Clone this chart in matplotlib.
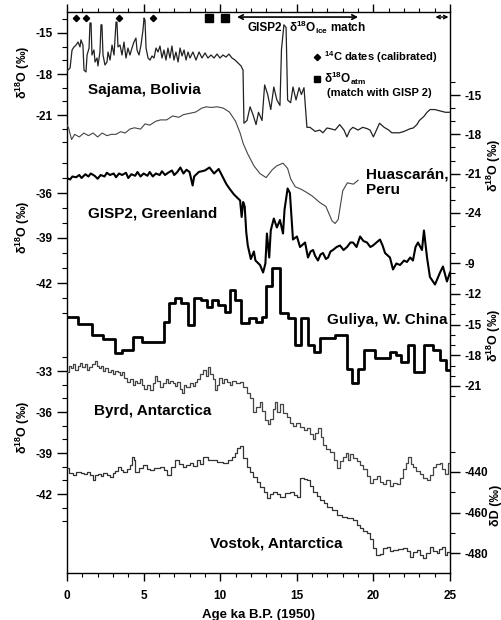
import matplotlib
matplotlib.use("Agg")
import matplotlib.pyplot as plt
from matplotlib.ticker import MultipleLocator

plt.rcParams['font.family'] = ['Liberation Sans', 'DejaVu Sans']
plt.rcParams['font.weight'] = 'bold'
plt.rcParams['axes.unicode_minus'] = False
plt.rcParams['mathtext.default'] = 'regular'

# ---- data ----
sajama_age = [0.0, 0.2, 0.33, 0.46, 0.59, 0.72, 0.85, 0.91, 1.04, 1.11, 1.24, 1.31, 1.44, 1.5,
              1.57, 1.63, 1.76, 1.83, 1.96, 2.02, 2.15, 2.22, 2.28, 2.35, 2.48, 2.61, 2.68, 2.81,
              2.94, 3.07, 3.2, 3.26, 3.33, 3.46, 3.59, 3.72, 3.85, 3.98, 4.11, 4.24, 4.37, 4.5,
              4.57, 4.7, 4.83, 4.96, 5.03, 5.09, 5.16, 5.29, 5.42, 5.55, 5.68, 5.81, 5.94, 6.07,
              6.2, 6.33, 6.46, 6.59, 6.72, 6.85, 6.98, 7.11, 7.25, 7.38, 7.51, 7.64, 7.77, 7.9,
              8.03, 8.22, 8.42, 8.62, 8.81, 9.01, 9.2, 9.4, 9.6, 9.79, 9.99, 10.18, 10.38, 10.57,
              10.77, 10.97, 11.16, 11.36, 11.49,
              11.55, 11.75, 11.95, 12.15, 12.34, 12.5, 12.73, 12.9, 13.1, 13.3, 13.5, 13.7, 13.9,
              14.0, 14.16, 14.3, 14.4, 14.6, 14.75, 14.95, 15.15, 15.3, 15.47, 15.66, 15.86, 16.2,
              16.5, 16.7, 16.97, 17.2, 17.5, 17.8, 18.08, 18.27, 18.47, 18.66, 19.0, 19.3, 19.6,
              19.78, 20.0, 20.2, 20.4, 20.7, 21.0, 21.2, 21.7, 22.0, 22.4, 22.6, 22.84, 23.0,
              23.3, 23.5, 23.7, 24.0, 24.35, 24.7, 25.0]
sajama_d18o = [-17.78, -17.56, -16.24, -16.02, -15.88, -15.66, -16.02, -15.5, -15.88, -17.71,
               -17.85, -16.61, -16.1, -14.27, -14.27, -16.61, -16.24, -17.12, -16.83, -17.41,
               -16.39, -14.4, -14.4, -16.61, -17.34, -17.12, -16.39, -16.98, -15.88, -16.61,
               -14.2, -14.2, -16.02, -15.88, -16.61, -15.66, -16.83, -16.1, -16.61, -16.1,
               -15.66, -15.37, -16.24, -16.61, -15.88, -14.78, -13.9, -14.05, -16.1, -16.83,
               -16.98, -16.68, -16.83, -16.1, -16.39, -15.95, -16.83, -16.24, -16.98, -16.1,
               -16.83, -15.95, -16.98, -16.39, -17.12, -16.1, -16.68, -16.24, -16.98, -16.39,
               -16.83, -16.39, -16.98, -16.39, -16.83, -16.46, -16.83, -16.61, -16.83, -16.54,
               -16.83, -16.61, -16.76, -16.54, -16.83, -16.98, -17.19, -17.41, -17.71,
               -21.6, -21.4, -20.4, -21.0, -21.7, -20.8, -21.4, -18.8, -19.5, -20.6, -18.95,
               -19.9, -20.3, -16.2, -14.4, -14.6, -19.9, -20.1, -18.95, -19.9, -19.0, -19.5,
               -19.0, -21.9, -21.9, -22.2, -22.1, -22.3, -21.95, -22.0, -22.1, -21.7, -22.1,
               -22.6, -22.1, -21.9, -22.1, -21.9, -22.0, -22.1, -22.6, -22.1, -21.6, -21.9,
               -22.1, -22.3, -22.3, -22.2, -22.0, -21.95, -21.7, -21.4, -21.1, -20.8, -20.6,
               -20.6, -20.7, -20.8, -20.8]

huascaran_age = [0.0, 0.1, 0.3, 0.5, 0.8, 1.1, 1.4, 1.7, 2.0, 2.3, 2.6, 2.9, 3.2, 3.5, 3.8, 4.1,
                 4.4, 4.8, 5.1, 5.4, 5.8, 6.1, 6.5, 6.9, 7.3, 7.6, 8.0, 8.4, 8.8, 9.1, 9.4, 9.8,
                 10.2, 10.6, 11.0, 11.3, 11.5, 11.8, 12.2, 12.6, 13.0, 13.4, 13.7, 14.1, 14.4,
                 14.6, 14.9, 15.3, 15.6, 16.0, 16.5, 16.9, 17.3, 17.5, 17.7, 18.0, 18.3, 18.7, 19.0]
huascaran_d18o = [-17.3, -17.5, -18.4, -18.0, -18.2, -17.9, -18.1, -17.9, -18.2, -17.9, -18.1,
                  -18.0, -18.0, -17.8, -17.9, -17.6, -17.5, -17.6, -17.2, -17.3, -17.0, -16.9,
                  -16.9, -16.6, -16.7, -16.5, -16.4, -16.3, -16.0, -15.9, -15.95, -15.9, -16.0,
                  -16.3, -17.0, -17.9, -18.7, -19.5, -20.4, -21.0, -21.3, -20.7, -20.4, -20.2,
                  -20.6, -21.4, -22.0, -22.2, -22.4, -22.7, -23.2, -23.5, -24.6, -24.8, -24.5,
                  -22.3, -21.7, -21.8, -21.5]

gisp2_age = [0.0, 0.2, 0.35, 0.6, 0.8, 0.95, 1.2, 1.4, 1.55, 1.8, 2.0, 2.2, 2.45, 2.6, 2.8, 3.05,
             3.2, 3.4, 3.6, 3.85, 4.0, 4.2, 4.45, 4.6, 4.8, 5.0, 5.25, 5.4, 5.6, 5.8, 6.05, 6.2,
             6.4, 6.6, 6.85, 7.0, 7.2, 7.4, 7.6, 7.8, 8.0, 8.2, 8.3, 8.6, 9.0, 9.3, 9.6, 9.9,
             10.1, 10.4, 10.6, 10.9, 11.1, 11.3, 11.4, 11.5, 11.6, 11.7, 11.8, 12.0, 12.2, 12.3,
             12.6, 12.8, 12.95, 13.05, 13.2, 13.3, 13.5, 13.7, 13.9, 14.1, 14.2, 14.4, 14.55,
             14.75, 15.01, 15.21, 15.54, 15.73, 15.9, 16.06, 16.2, 16.38, 16.55, 16.71, 16.9,
             17.04, 17.2, 17.36, 17.6, 17.82, 18.05, 18.28, 18.5, 18.67, 18.9, 19.13, 19.35,
             19.58, 19.8, 19.97, 20.2, 20.43, 20.6, 20.76, 21.08, 21.28, 21.5, 21.74, 22.0, 22.19,
             22.4, 22.58, 22.75, 22.91, 23.17, 23.3, 23.5, 23.69, 24.02, 24.35, 24.54, 24.8, 25.0]
gisp2_d18o = [-35.0, -35.1, -34.9, -34.95, -34.8, -35.0, -34.75, -34.9, -34.7, -34.85, -35.05,
              -34.8, -34.9, -34.65, -34.8, -34.7, -34.95, -34.7, -34.8, -34.65, -35.0, -34.75,
              -34.85, -34.6, -34.9, -34.7, -34.85, -34.6, -34.9, -34.7, -34.8, -34.55, -34.8,
              -34.65, -34.5, -34.8, -34.6, -34.3, -34.7, -34.45, -34.6, -35.5, -34.9, -34.6,
              -34.5, -34.3, -34.7, -34.4, -34.8, -35.4, -35.7, -36.1, -36.3, -36.5, -37.6,
              -36.6, -36.9, -38.6, -39.5, -40.4, -39.9, -40.5, -40.8, -41.3, -40.7, -38.7,
              -40.3, -38.5, -37.7, -38.3, -37.8, -38.7, -37.1, -35.7, -36.0,
              -39.1, -38.9, -39.6, -39.3, -40.3, -39.9, -39.8, -40.2, -40.5, -40.1, -40.0,
              -40.4, -40.3, -39.9, -39.8, -39.6, -39.5, -39.8, -39.6, -39.3, -39.3, -39.6,
              -38.9, -39.2, -39.3, -39.6, -39.5, -39.3, -39.1, -39.5, -40.0, -40.3, -41.1,
              -40.7, -40.8, -40.5, -40.6, -40.3, -40.5, -39.6, -39.3, -39.8, -38.5, -40.3,
              -41.6, -42.1, -41.3, -40.9, -41.9, -41.3]

guliya_edges = [0.0, 0.72, 1.63, 2.35, 3.13, 3.59, 4.31, 4.9, 6.33, 6.66, 7.05, 7.44, 7.9, 8.29,
                8.75, 9.14, 9.46, 9.86, 10.31, 10.64, 10.97, 11.36, 11.88, 12.34, 12.73, 12.99,
                13.38, 13.9, 14.43, 14.88, 15.27, 15.73, 16.12, 16.51, 17.49, 18.28, 18.6, 18.99,
                19.39, 20.1, 21.08, 21.48, 21.8, 22.26, 22.65, 23.3, 23.89, 24.35, 24.74, 25.0]
guliya_d18o = [-14.3, -14.95, -16.0, -16.4, -17.8, -17.5, -16.2, -16.7, -14.8, -12.9, -12.4,
               -12.9, -15.0, -12.4, -12.6, -13.3, -12.6, -13.1, -13.8, -11.6, -12.6, -14.85,
               -14.4, -14.8, -14.3, -11.2, -9.5, -13.9, -14.4, -17.0, -14.4, -17.0, -17.7, -16.3,
               -16.0, -19.3, -20.7, -19.3, -17.5, -18.3, -17.7, -18.0, -18.7, -17.0, -19.6, -17.0,
               -17.5, -18.5, -19.4, -19.4]

byrd_age = [0.0, 0.1, 0.25, 0.39, 0.55, 0.7, 0.85, 1.0, 1.15, 1.31, 1.45, 1.65, 1.8, 1.96, 2.1,
            2.25, 2.35, 2.5, 2.7, 2.85, 3.0, 3.15, 3.3, 3.45, 3.59, 3.75, 3.92, 4.1, 4.31, 4.45,
            4.6, 4.75, 4.9, 5.05, 5.2, 5.42, 5.6, 5.75, 5.87, 6.05, 6.27, 6.45, 6.6, 6.75, 6.92,
            7.05, 7.2, 7.35, 7.51, 7.65, 7.8, 8.03, 8.2, 8.35, 8.49, 8.65, 8.88, 9.05, 9.2, 9.35,
            9.53, 9.65, 9.79, 9.95, 10.1, 10.25, 10.45, 10.64, 10.8, 11.0, 11.29, 11.5, 11.75,
            11.95, 12.14, 12.35, 12.6, 12.75, 12.92, 13.1, 13.25, 13.45, 13.6, 13.71, 13.9, 14.1,
            14.36, 14.55, 14.75, 14.95, 15.2, 15.45, 15.67, 15.85, 16.06, 16.2, 16.38, 16.55,
            16.71, 16.9, 17.17, 17.4, 17.62, 17.8, 18.02, 18.2, 18.35, 18.47, 18.7, 18.93, 19.1,
            19.32, 19.55, 19.78, 20.0, 20.23, 20.4, 20.63, 20.85, 21.08, 21.3, 21.54, 21.75,
            21.93, 22.1, 22.26, 22.45, 22.58, 22.8, 23.04, 23.25, 23.5, 23.7, 23.89, 24.1, 24.35,
            24.5, 24.67, 24.87, 25.0]
byrd_d18o = [-33.1, -32.6, -32.8, -32.5, -32.9, -32.6, -32.4, -32.7, -32.5, -32.9, -32.7, -32.5,
             -32.3, -32.6, -32.8, -32.6, -33.0, -32.8, -33.1, -32.9, -33.2, -33.0, -33.1, -33.3,
             -33.1, -33.5, -33.8, -33.6, -34.0, -33.7, -33.9, -33.6, -34.0, -34.3, -34.0, -34.4,
             -33.9, -33.4, -33.7, -34.2, -33.9, -33.6, -33.9, -33.7, -33.9, -34.1, -33.8, -34.3,
             -34.6, -34.0, -34.2, -33.9, -34.1, -33.8, -33.6, -33.2, -32.9, -33.4, -32.7, -33.2,
             -33.6, -34.4, -34.0, -33.5, -33.9, -33.6, -33.8, -34.0, -33.7, -33.9, -33.8, -34.2,
             -34.6, -35.0, -36.0, -35.6, -35.3, -35.9, -36.6, -36.9, -36.5, -35.8, -35.3, -36.0,
             -35.4, -36.1, -36.4, -36.8, -37.0, -36.8, -37.1, -37.3, -37.2, -37.6, -38.0, -37.5,
             -37.2, -37.8, -38.4, -38.7, -38.9, -39.5, -40.1, -39.6, -39.3, -39.0, -39.5, -39.1,
             -39.4, -39.6, -39.9, -40.2, -40.7, -41.2, -40.9, -40.7, -41.1, -41.3, -41.0, -41.4,
             -41.2, -41.3, -40.8, -40.2, -39.7, -39.3, -39.8, -40.0, -40.3, -40.5, -40.8, -41.0,
             -40.6, -40.0, -39.8, -39.7, -40.2, -40.5, -39.7, -39.9]

vostok_age = [0.0, 0.15, 0.39, 0.6, 0.9, 1.1, 1.31, 1.5, 1.7, 1.85, 2.0, 2.2, 2.35, 2.6, 2.81,
              3.0, 3.15, 3.33, 3.5, 3.66, 3.9, 4.1, 4.24, 4.35, 4.44, 4.7, 4.96, 5.2, 5.42, 5.7,
              6.07, 6.3, 6.53, 6.8, 7.05, 7.3, 7.57, 7.8, 8.03, 8.25, 8.49, 8.7, 8.88, 9.2, 9.53,
              9.8, 10.18, 10.5, 10.77, 10.95, 11.1, 11.29, 11.49, 11.75, 11.95, 12.14, 12.4,
              12.6, 12.85, 13.05, 13.25, 13.45, 13.7, 13.9, 14.2, 14.56, 14.8, 15.01, 15.21,
              15.45, 15.67, 15.85, 16.06, 16.3, 16.51, 16.75, 16.97, 17.3, 17.62, 17.95, 18.28,
              18.67, 18.9, 19.13, 19.35, 19.58, 19.8, 19.97, 20.2, 20.43, 20.6, 20.89, 21.1,
              21.28, 21.6, 21.93, 22.2, 22.39, 22.6, 22.85, 23.05, 23.24, 23.45, 23.69, 23.9,
              24.15, 24.3, 24.48, 24.65, 24.8, 25.0]
vostok_dd = [-438.0, -440.5, -441.5, -440.0, -440.5, -441.0, -440.0, -441.5, -444.0, -441.5,
             -441.0, -442.0, -440.5, -441.5, -442.5, -440.5, -439.5, -437.5, -439.0, -440.0,
             -438.5, -436.5, -432.6, -434.0, -440.0, -438.0, -436.5, -438.5, -439.0, -438.0,
             -437.5, -439.0, -441.5, -437.5, -434.1, -436.0, -437.5, -436.5, -435.6, -437.0,
             -434.1, -436.0, -432.6, -434.0, -434.1, -435.0, -435.6, -434.0, -432.6, -430.5,
             -428.1, -427.2, -433.0, -437.5, -440.0, -442.5, -445.0, -447.4, -450.0, -452.8,
             -451.0, -449.9, -451.0, -452.3, -450.5, -449.9, -451.5, -452.3, -443.0, -443.5,
             -444.0, -447.0, -449.9, -452.0, -453.8, -455.5, -457.3, -459.0, -461.2, -462.0,
             -462.7, -463.7, -466.0, -467.7, -469.0, -470.1, -473.0, -477.5, -481.0, -480.5,
             -477.5, -477.0, -479.0, -478.5, -478.0, -477.5, -479.0, -482.0, -479.5, -478.5,
             -481.0, -482.5, -480.0, -477.0, -479.0, -480.0, -478.0, -477.0, -481.0, -479.5,
             -479.5]

c14_dates = [0.59, 1.24, 3.39, 5.61]
atm_match = [9.27, 10.31]
gisp2_match = (11.1, 19.0)

# ---- layout (pixels of the 502x620 picture) ----
W, H = 502, 620
X0, X1, YT, YB = 67, 450, 12, 573
rect = [X0 / W, 1 - YB / H, (X1 - X0) / W, (YB - YT) / H]

fig = plt.figure(figsize=(W / 100, H / 100), dpi=100)
ax = fig.add_axes(rect, label='frame')
ax.set_xlim(0, 25)
ax.set_ylim(0, 1)
ax.set_yticks([])
ax.xaxis.set_major_locator(MultipleLocator(5))
ax.xaxis.set_minor_locator(MultipleLocator(1))
ax.tick_params(axis='x', which='major', direction='out', length=6, width=1, top=True,
               labelsize=8.5, pad=6)
ax.tick_params(axis='x', which='minor', direction='out', length=3, width=0.8, top=True)
for sp in ax.spines.values():
    sp.set_linewidth(1.0)
ax.set_xlabel('Age ka B.P. (1950)', fontsize=9.5, fontweight='bold', labelpad=5)


def overlay(name, v0, y0, s, side, major, minor):
    # a transparent axes on top of the frame, its y scale set so that
    # value v0 sits at picture row y0 with s pixels per unit
    a = fig.add_axes(rect, label=name)
    a.patch.set_visible(False)
    for sp in a.spines.values():
        sp.set_visible(False)
    a.set_xlim(0, 25)
    a.set_ylim(v0 + (y0 - YB) / s, v0 + (y0 - YT) / s)
    a.set_xticks([])
    a.yaxis.set_ticks_position(side)
    a.set_yticks(major)
    a.set_yticks(minor, minor=True)
    a.tick_params(axis='y', which='major', direction='out', length=7, width=1, labelsize=8.5)
    a.tick_params(axis='y', which='minor', direction='out', length=3.5, width=0.8)
    return a


a_saj = overlay('sajama', -15, 33, 13.67, 'left', [-15, -18, -21], list(range(-23, -13)))
a_hua = overlay('huascaran', -15, 95, 13.11, 'right', [-15, -18, -21, -24], list(range(-25, -13)))
a_gis = overlay('gisp2', -36, 193, 15.0, 'left', [-36, -39, -42], list(range(-44, -33)))
a_gul = overlay('guliya', -9, 263, 10.25, 'right', [-9, -12, -15, -18, -21], list(range(-22, -7)))
a_byr = overlay('byrd', -33, 371, 13.67, 'left', [-33, -36, -39, -42], list(range(-44, -31)))
a_vos = overlay('vostok', -440, 472, 2.025, 'right', [-440, -460, -480], list(range(-480, -420, 10)))

a_saj.plot(sajama_age, sajama_d18o, color='#222222', lw=0.9)
a_hua.plot(huascaran_age, huascaran_d18o, color='#444444', lw=0.8)
a_gis.plot(gisp2_age, gisp2_d18o, color='black', lw=1.5)
a_gul.step(guliya_edges, guliya_d18o, where='post', color='black', lw=2.0)
a_byr.step(byrd_age, byrd_d18o, where='post', color='#444444', lw=0.9)
a_vos.step(vostok_age, vostok_dd, where='post', color='#333333', lw=0.9)

# record names
tr = ax.get_xaxis_transform()
lab = dict(fontsize=11, fontweight='bold', transform=tr, va='center', ha='left')
ax.text(1.37, 0.861, 'Sajama, Bolivia', **lab)
ax.text(19.5, 0.696, 'Huascarán,\nPeru', linespacing=1.15, **lab)
ax.text(1.37, 0.640, 'GISP2, Greenland', **lab)
ax.text(16.97, 0.451, 'Guliya, W. China', **lab)
ax.text(1.76, 0.289, 'Byrd, Antarctica', **lab)
ax.text(9.33, 0.053, 'Vostok, Antarctica', **lab)

# dating control along the top
ax.plot(c14_dates, [0.989] * len(c14_dates), 'D', color='black', ms=3.2, transform=tr, clip_on=False)
ax.plot(atm_match, [0.990] * len(atm_match), 's', color='black', ms=5.5, transform=tr, clip_on=False)
ax.annotate('', xy=(gisp2_match[0], 0.991), xytext=(gisp2_match[1], 0.991), xycoords=tr,
            arrowprops=dict(arrowstyle='<->', lw=1.2, color='black', shrinkA=0, shrinkB=0,
                            mutation_scale=8))
ax.text(11.75, 0.972, 'GISP2', transform=tr, fontsize=8.5, fontweight='bold', va='center')
ax.text(14.5, 0.972, r'δ$^{18}$O$_{ice}$ match', transform=tr, fontsize=8.5,
        fontweight='bold', va='center')
ax.annotate('', xy=(24.05, 0.991), xytext=(24.9, 0.991), xycoords=tr,
            arrowprops=dict(arrowstyle='<->', lw=1.0, color='black', shrinkA=0, shrinkB=0,
                            mutation_scale=6))

# legend
ax.plot([16.3], [0.920], 'D', color='black', ms=3.2, transform=tr)
ax.text(16.75, 0.920, r'$^{14}$C dates (calibrated)', transform=tr, fontsize=8,
        fontweight='bold', va='center')
ax.plot([16.3], [0.881], 's', color='black', ms=5, transform=tr)
ax.text(16.75, 0.881, r'δ$^{18}$O$_{atm}$', transform=tr, fontsize=8.5,
        fontweight='bold', va='center')
ax.text(17.0, 0.855, '(match with GISP 2)', transform=tr, fontsize=8,
        fontweight='bold', va='center')

# axis titles for each record
yl = dict(rotation=90, ha='center', va='center', fontsize=9, fontweight='bold')
fig.text(23 / W, 1 - 72 / H, r'δ$^{18}$O (‰)', **yl)
fig.text(23 / W, 1 - 227 / H, r'δ$^{18}$O (‰)', **yl)
fig.text(23 / W, 1 - 427 / H, r'δ$^{18}$O (‰)', **yl)
fig.text(494 / W, 1 - 165 / H, r'δ$^{18}$O (‰)', **yl)
fig.text(494 / W, 1 - 335 / H, r'δ$^{18}$O (‰)', **yl)
fig.text(496 / W, 1 - 505 / H, 'δD (‰)', **yl)

fig.savefig('out.png', dpi=100)
